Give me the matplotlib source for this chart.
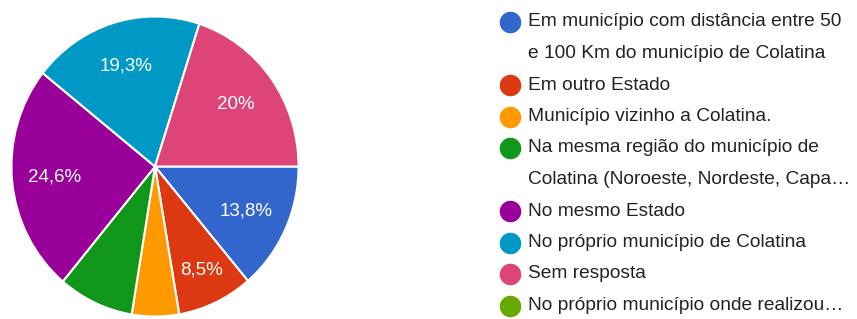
import numpy as np
import matplotlib.pyplot as plt

# dados do gráfico
categorias = [
    'Em município com distância entre 50\ne 100 Km do município de Colatina',
    'Em outro Estado',
    'Município vizinho a Colatina.',
    'Na mesma região do município de\nColatina (Noroeste, Nordeste, Capa…',
    'No mesmo Estado',
    'No próprio município de Colatina',
    'Sem resposta',
    'No próprio município onde realizou…',
]
valores = [13.8, 8.5, 5.3, 8.5, 24.6, 19.3, 20.0, 0.0]
rotulos = ['13,8%', '8,5%', '', '', '24,6%', '19,3%', '20%', '']
cores = ['#3366CC', '#DC3912', '#FF9900', '#109618', '#990099', '#0099C6', '#DD4477', '#66AA00']

plt.rcParams['font.family'] = ['Liberation Sans', 'DejaVu Sans']

W, H = 857, 319
fig = plt.figure(figsize=(W / 100, H / 100), dpi=100)

# pizza (levemente esticada na vertical, como a imagem original)
cx, cy, rx, ry = 155, 166.5, 145, 151.5
ax = fig.add_axes([(cx - rx) / W, (H - cy - ry) / H, 2 * rx / W, 2 * ry / H])
idx = [i for i, v in enumerate(valores) if v > 0]
wedges, textos = ax.pie([valores[i] for i in idx],
                        colors=[cores[i] for i in idx],
                        labels=[rotulos[i] for i in idx],
                        labeldistance=0.7,
                        startangle=0, counterclock=False,
                        wedgeprops=dict(edgecolor='white', linewidth=1.5),
                        textprops=dict(color='white', fontsize=13.5, ha='center', va='center'))
# rótulo da fatia pequena um pouco mais para fora
for w, t, i in zip(wedges, textos, idx):
    if valores[i] < 10:
        a = np.deg2rad((w.theta1 + w.theta2) / 2)
        t.set_position((0.76 * np.cos(a), 0.76 * np.sin(a)))
ax.set_xlim(-1.01, 1.01)
ax.set_ylim(-1.01, 1.01)
ax.set_aspect('auto')

# legenda manual
lg = fig.add_axes([0, 0, 1, 1])
lg.set_xlim(0, W)
lg.set_ylim(H, 0)
lg.axis('off')
y = 22
for nome, cor in zip(categorias, cores):
    lg.plot(510, y, 'o', color=cor, markersize=14.5)
    for linha in nome.split('\n'):
        lg.text(528, y, linha, fontsize=13.8, color='#222222', va='center', ha='left')
        y += 31.5

fig.savefig('out.png', dpi=100)
